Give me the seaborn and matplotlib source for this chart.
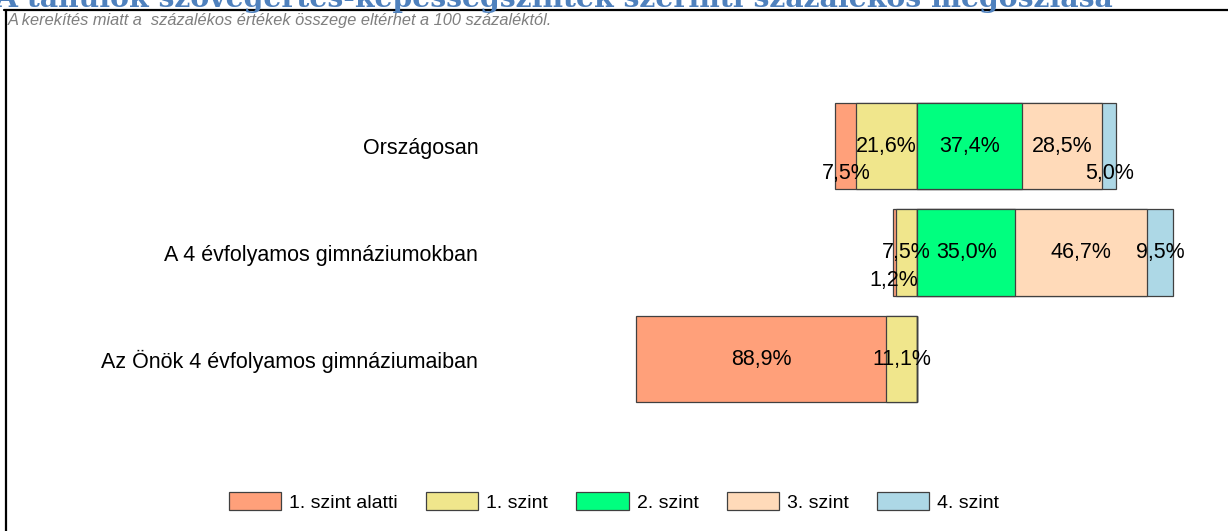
import numpy as np
import pandas as pd
import matplotlib
matplotlib.use('Agg')
import matplotlib.pyplot as plt
from matplotlib.patches import Patch
from matplotlib.lines import Line2D
import seaborn as sns

categories = ['Országosan', 'A 4 évfolyamos gimnáziumokban', 'Az Önök 4 évfolyamos gimnáziumaiban']
levels = ['1. szint alatti', '1. szint', '2. szint', '3. szint', '4. szint']
alatti = [7.5, 1.2, 88.9]
szint1 = [21.6, 7.5, 11.1]
szint2 = [37.4, 35.0, 0.0]
szint3 = [28.5, 46.7, 0.0]
szint4 = [5.0, 9.5, 0.0]

title = 'A tanulók szövegértés-képességszintek szerinti százalékos megoszlása'
note = 'A kerekítés miatt a  százalékos értékek összege eltérhet a 100 százaléktól.'

colors = ['#FFA07A', '#F0E68C', '#00FF7F', '#FFDAB9', '#ADD8E6']
edge = '#404040'

sns.set_style('white')
plt.rcParams['font.family'] = ['Liberation Sans', 'DejaVu Sans']
plt.rcParams['text.color'] = 'black'
plt.rcParams['ytick.labelcolor'] = 'black'

W, H = 1228, 531
fig = plt.figure(figsize=(W / 100, H / 100), dpi=100)

# axes placed in pixel terms: 0% sits at x=917px, 2.81 px per percent
left_px, right_px, top_px, bot_px = 490, 1228, 60, 460
ax = fig.add_axes([left_px / W, 1 - bot_px / H, (right_px - left_px) / W, (bot_px - top_px) / H])

df = pd.DataFrame({'cat': categories, 'alatti': alatti, 'szint1': szint1,
                   'szint2': szint2, 'szint3': szint3, 'szint4': szint4})
df['neg_all'] = -(df['alatti'] + df['szint1'])
df['neg_1'] = -df['szint1']
df['pos_all'] = df['szint2'] + df['szint3'] + df['szint4']
df['pos_23'] = df['szint2'] + df['szint3']
df['pos_2'] = df['szint2']

bw = 0.81
layers = [('neg_all', colors[0]), ('neg_1', colors[1]),
          ('pos_all', colors[4]), ('pos_23', colors[3]), ('pos_2', colors[2])]
for col, c in layers:
    sns.barplot(data=df, x=col, y='cat', order=categories, orient='y', color=c,
                edgecolor=edge, linewidth=0.9, width=bw, errorbar=None, ax=ax,
                saturation=1)

ax.set_xlim((left_px - 917) / 2.81, (right_px - 917) / 2.81)
ax.set_ylim(2 + (bot_px - 359) / 106.5, -(146 - top_px) / 106.5)
ax.set_xlabel('')
ax.set_ylabel('')
ax.set_xticks([])
ax.tick_params(axis='y', length=0, pad=8.5, labelsize=15.5, labelcolor='black')
for s in ax.spines.values():
    s.set_visible(False)

# segment labels
series = [alatti, szint1, szint2, szint3, szint4]
for i in range(len(categories)):
    vals = [s[i] for s in series]
    starts = [-(vals[0] + vals[1]), -vals[1], 0, vals[2], vals[2] + vals[3]]
    for j, v in enumerate(vals):
        if v <= 0:
            continue
        xc = starts[j] + v / 2
        yc = i
        if j in (0, 4) and v < 8:
            yc = i + 0.26
        ax.text(xc, yc, f'{v:.1f}%'.replace('.', ','), ha='center', va='center',
                fontsize=15.5, color='black')

# title (cut off at the top) and note
fig.text(-0.004, 1 - 7 / H, title, ha='left', va='baseline', fontsize=20.3,
         fontweight='bold', color='#4F81BD', family=['DejaVu Serif'])
fig.text(8 / W, 1 - 21 / H, note, ha='left', va='center', fontsize=11.8,
         style='italic', color='#7F7F7F')

# frame lines
fig.add_artist(Line2D([4 / W, 1], [1 - 10 / H, 1 - 10 / H], color='black', lw=1.6,
                      transform=fig.transFigure))
fig.add_artist(Line2D([5.5 / W, 5.5 / W], [1 - 10 / H, 0], color='black', lw=1.6,
                      transform=fig.transFigure))

handles = [Patch(facecolor=c, edgecolor=edge, linewidth=0.9) for c in colors]
fig.legend(handles, levels, loc='center', bbox_to_anchor=(0.5, 1 - 502 / H), ncol=5,
           frameon=False, fontsize=14, handlelength=2.7, handleheight=1.0,
           handletextpad=0.4, columnspacing=1.45, labelcolor='black')

fig.savefig('out.png', dpi=100, facecolor='white')
